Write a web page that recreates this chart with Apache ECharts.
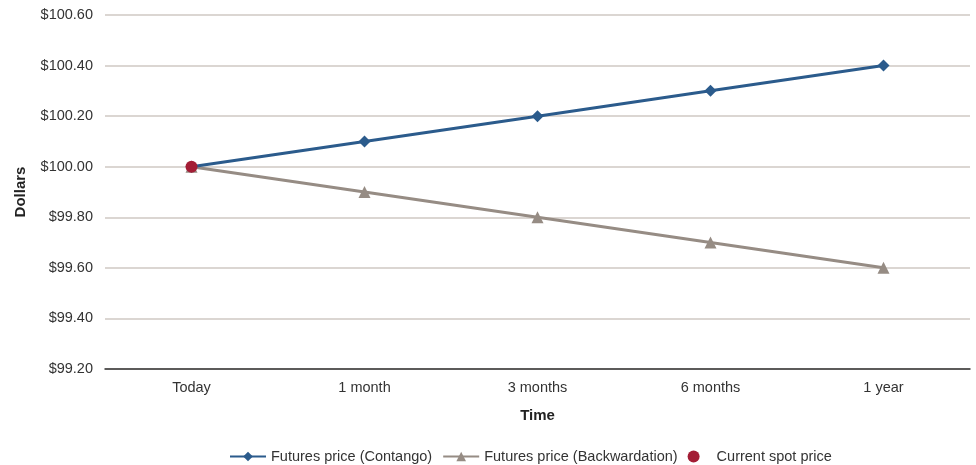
<!DOCTYPE html>
<html><head><meta charset="utf-8">
<script src="https://cdn.jsdelivr.net/npm/echarts@6/dist/echarts.min.js"></script>
<style>html,body{margin:0;padding:0;background:#fff}#c{width:976px;height:465px}</style>
</head><body><div id="c"></div>
<script>
var categories = ['Today', '1 month', '3 months', '6 months', '1 year'];
var contango = [100.0, 100.1, 100.2, 100.3, 100.4];
var backwardation = [100.0, 99.9, 99.8, 99.7, 99.6];
var spot = [100.0, null, null, null, null];
var yMin = 99.2, yMax = 100.6, yStep = 0.2;

var font = 'Liberation Sans, Arial, sans-serif';
var chart = echarts.init(document.getElementById('c'));
chart.setOption({
  animation: false,
  textStyle: {fontFamily: font},
  grid: {left: 105, right: 6, top: 15, bottom: 96, containLabel: false},
  xAxis: {
    type: 'category', data: categories, boundaryGap: true,
    name: 'Time', nameLocation: 'middle', nameGap: 39,
    nameTextStyle: {fontFamily: font, fontSize: 15, fontWeight: 'bold', color: '#222'},
    axisLine: {lineStyle: {color: '#333', width: 1.5}},
    axisTick: {show: false},
    axisLabel: {fontFamily: font, fontSize: 14.5, color: '#333', margin: 11}
  },
  yAxis: {
    type: 'value', min: yMin, max: yMax, interval: yStep,
    name: 'Dollars', nameLocation: 'middle', nameGap: 77, nameRotate: 90,
    nameTextStyle: {fontFamily: font, fontSize: 15, fontWeight: 'bold', color: '#222'},
    axisLine: {show: false}, axisTick: {show: false},
    axisLabel: {fontFamily: font, fontSize: 14.5, color: '#333', margin: 12,
      formatter: function (v) { return '$' + v.toFixed(2); }},
    splitLine: {lineStyle: {color: '#cfc8c3', width: 1.5}}
  },
  legend: {
    top: 444, left: 224, itemGap: 10, itemWidth: 36, itemHeight: 12,
    textStyle: {fontFamily: font, fontSize: 14.5, color: '#333'},
    data: [
      {name: 'Futures price (Contango)'},
      {name: 'Futures price (Backwardation)'},
      {name: 'Current spot price', icon: 'circle'}
    ]
  },
  series: [
    {name: 'Futures price (Contango)', type: 'line', data: contango,
      symbol: 'diamond', symbolSize: 12, showSymbol: true,
      lineStyle: {color: '#2b5b8c', width: 3}, itemStyle: {color: '#2b5b8c'}, z: 3},
    {name: 'Futures price (Backwardation)', type: 'line', data: backwardation,
      symbol: 'triangle', symbolSize: 12,
      lineStyle: {color: '#968c84', width: 3}, itemStyle: {color: '#968c84'}, z: 2},
    {name: 'Current spot price', type: 'line', data: spot,
      symbol: 'circle', symbolSize: 12, lineStyle: {width: 0},
      itemStyle: {color: '#a31d35'}, z: 4}
  ]
});
</script></body></html>
